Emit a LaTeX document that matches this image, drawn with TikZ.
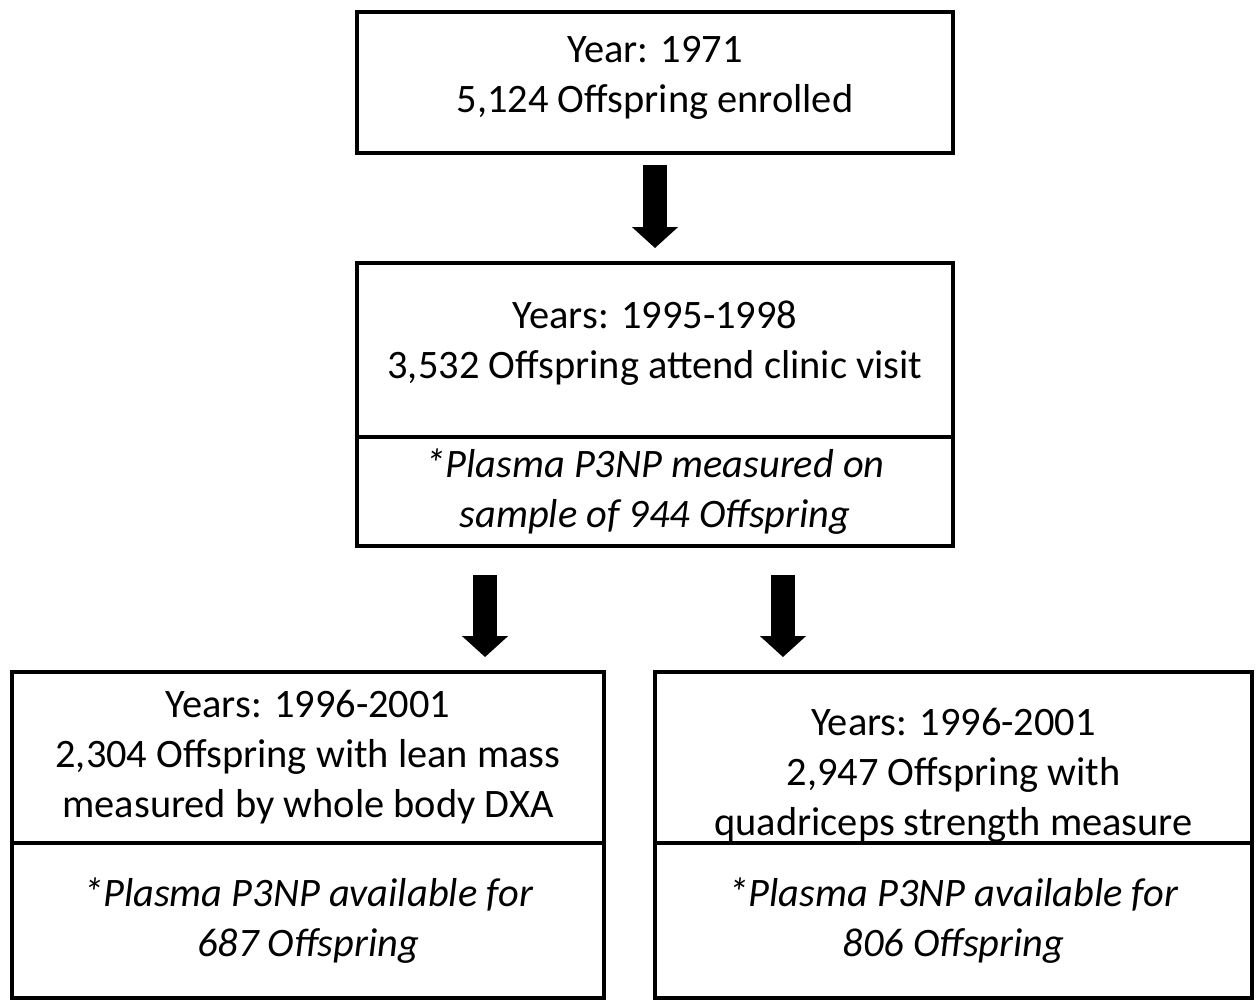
\documentclass[tikz,border=0pt]{standalone}
\usepackage{fontspec}
\setmainfont{Carlito}
\usepackage{tikz}
\usetikzlibrary{arrows.meta}

\tikzset{
  stage/.style = {draw, line width = 2pt, align = center, inner sep = 0pt, outer sep = 0pt,
                  font = \fontsize{23}{28.5}\selectfont},
  note/.style  = {stage, font = \fontsize{23}{28.5}\selectfont\itshape},
  bigarrow/.style = {line width = 0.48cm, -{Triangle[length = 0.42cm, width = 0.9cm]}}
}

\begin{document}
\begin{tikzpicture}[x = 0.02cm, y = -0.02cm]
    \useasboundingbox (0, 0) rectangle (1257, 1001);
    \node (top) at (655, 82.5) [stage, minimum width = 11.92cm, minimum height = 2.82cm] {Year: 1971\\ 5,124 Offspring enrolled\\[-19.5pt]};
    \node (midup) at (655, 350) [stage, minimum width = 11.92cm, minimum height = 3.48cm] {Years: 1995-1998\\ 3,532 Offspring attend clinic visit\\[-17pt]};
    \node (midlow) at (655, 491.5) [note, minimum width = 11.92cm, minimum height = 2.18cm] {*Plasma P3NP measured on\\ sample of 944 Offspring};
    \node (leftup) at (308, 757.5) [stage, minimum width = 11.84cm, minimum height = 3.42cm] {Years: 1996-2001\\ 2,304 Offspring with lean mass\\ measured by whole body DXA};
    \node (leftlow) at (308, 920.5) [note, minimum width = 11.84cm, minimum height = 3.1cm] {*Plasma P3NP available for\\ 687 Offspring};
    \node (rightup) at (953.5, 757.5) [stage, minimum width = 11.94cm, minimum height = 3.42cm] {\\[7pt] Years: 1996-2001\\ 2,947 Offspring with\\ quadriceps strength measure};
    \node (rightlow) at (953.5, 920.5) [note, minimum width = 11.94cm, minimum height = 3.1cm] {*Plasma P3NP available for\\ 806 Offspring};
    \coordinate (la) at ([xshift = -3.4cm] midlow.south);
    \coordinate (ra) at ([xshift = 2.56cm] midlow.south);
    \draw [bigarrow, shorten < = 0.24cm, shorten > = 0.3cm] (top) -- (midup);
    \draw [bigarrow, shorten < = 0.58cm, shorten > = 0.3cm] (la) -- (la |- leftup.north);
    \draw [bigarrow, shorten < = 0.58cm, shorten > = 0.3cm] (ra) -- (ra |- rightup.north);
\end{tikzpicture}
\end{document}
